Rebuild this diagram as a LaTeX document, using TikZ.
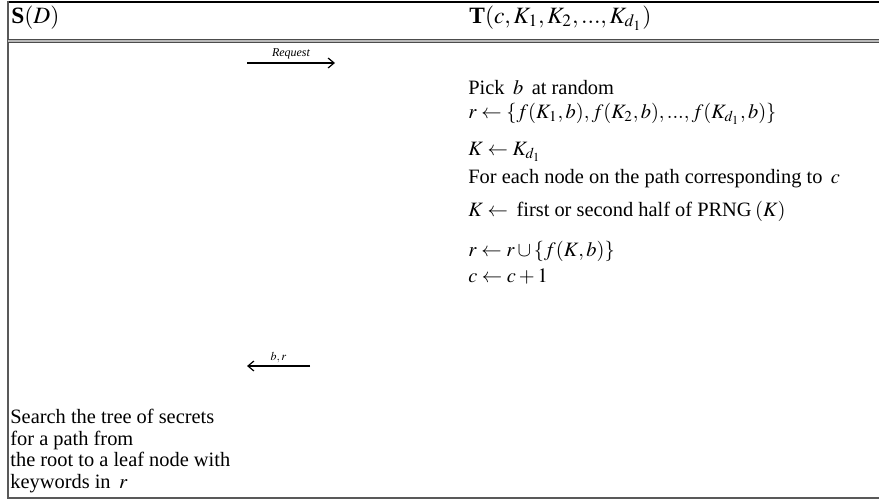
\documentclass[tikz,border=0pt]{standalone}
\usepackage{mathptmx}
\usepackage{fontspec}
\setmainfont{Liberation Serif}
\usetikzlibrary{arrows.meta,positioning}

\begin{document}
\begin{tikzpicture}[x=0.5pt,y=-0.5pt,>={Straight Barb[length=3pt,width=5pt]},
    txt/.style={anchor=west,inner sep=0pt,font=\fontsize{10.2}{10.8}\selectfont},
    head/.style={txt,font=\fontsize{11.7}{13}\selectfont},
    msg/.style={font=\fontsize{6}{7}\selectfont\itshape,inner sep=1.5pt,above}]
    \useasboundingbox (0,0) rectangle (879,502);

    % Frame of the protocol table
    \draw[line width=1.2pt] (8,2) -- (879,2);
    \draw[line width=0.9pt,gray!70!black] (8,1) -- (8,499);
    \draw[line width=0.9pt,gray!70!black] (8,498) -- (879,498);
    \draw[line width=0.6pt,draw=gray!60!black,double=gray!55,double distance=0.9pt] (8,41) -- (879,41);

    % Parties
    \node[head] (server) at (11,18) {\textbf{S}$(D)$};
    \node[head] (tag) at (469,18) {\textbf{T}$(c,K_1,K_2,...,K_{d_1})$};

    % Request from S to T
    \coordinate (reqL) at (247,63);
    \coordinate (reqR) at (335,63);
    \draw[->,line width=0.6pt] (reqL) -- node[msg] {Request} (reqR);

    % Computation on the tag side
    \node[txt] (pick) at (468,88) {Pick\, $b$\, at random};
    \node[txt] (rset) at (468,114) {$r\leftarrow\{f(K_1,b),f(K_2,b),...,f(K_{d_1},b)\}$};
    \node[txt] (kinit) at (468,152) {$K\leftarrow K_{d_1}$};
    \node[txt] (each) at (468,179) {For each node on the path corresponding to\, $c$};
    \node[txt] (khalf) at (468,211) {$K\leftarrow$\, first or second half of PRNG\,$(K)$};
    \node[txt] (runion) at (468,251) {$r\leftarrow r\cup\{f(K,b)\}$};
    \node[txt] (cinc) at (468,277) {$c\leftarrow c+1$};

    % Answer from T to S
    \coordinate (resR) at (310,366);
    \coordinate (resL) at (247,366);
    \draw[->,line width=0.6pt] (resR) -- node[msg] {$b,r$} (resL);

    % Search on the server side
    \node[txt,anchor=north west,align=left] (search) at (10,409)
        {Search the tree of secrets\\for a path from\\the root to a leaf node with\\keywords in\, $r$};
\end{tikzpicture}
\end{document}
